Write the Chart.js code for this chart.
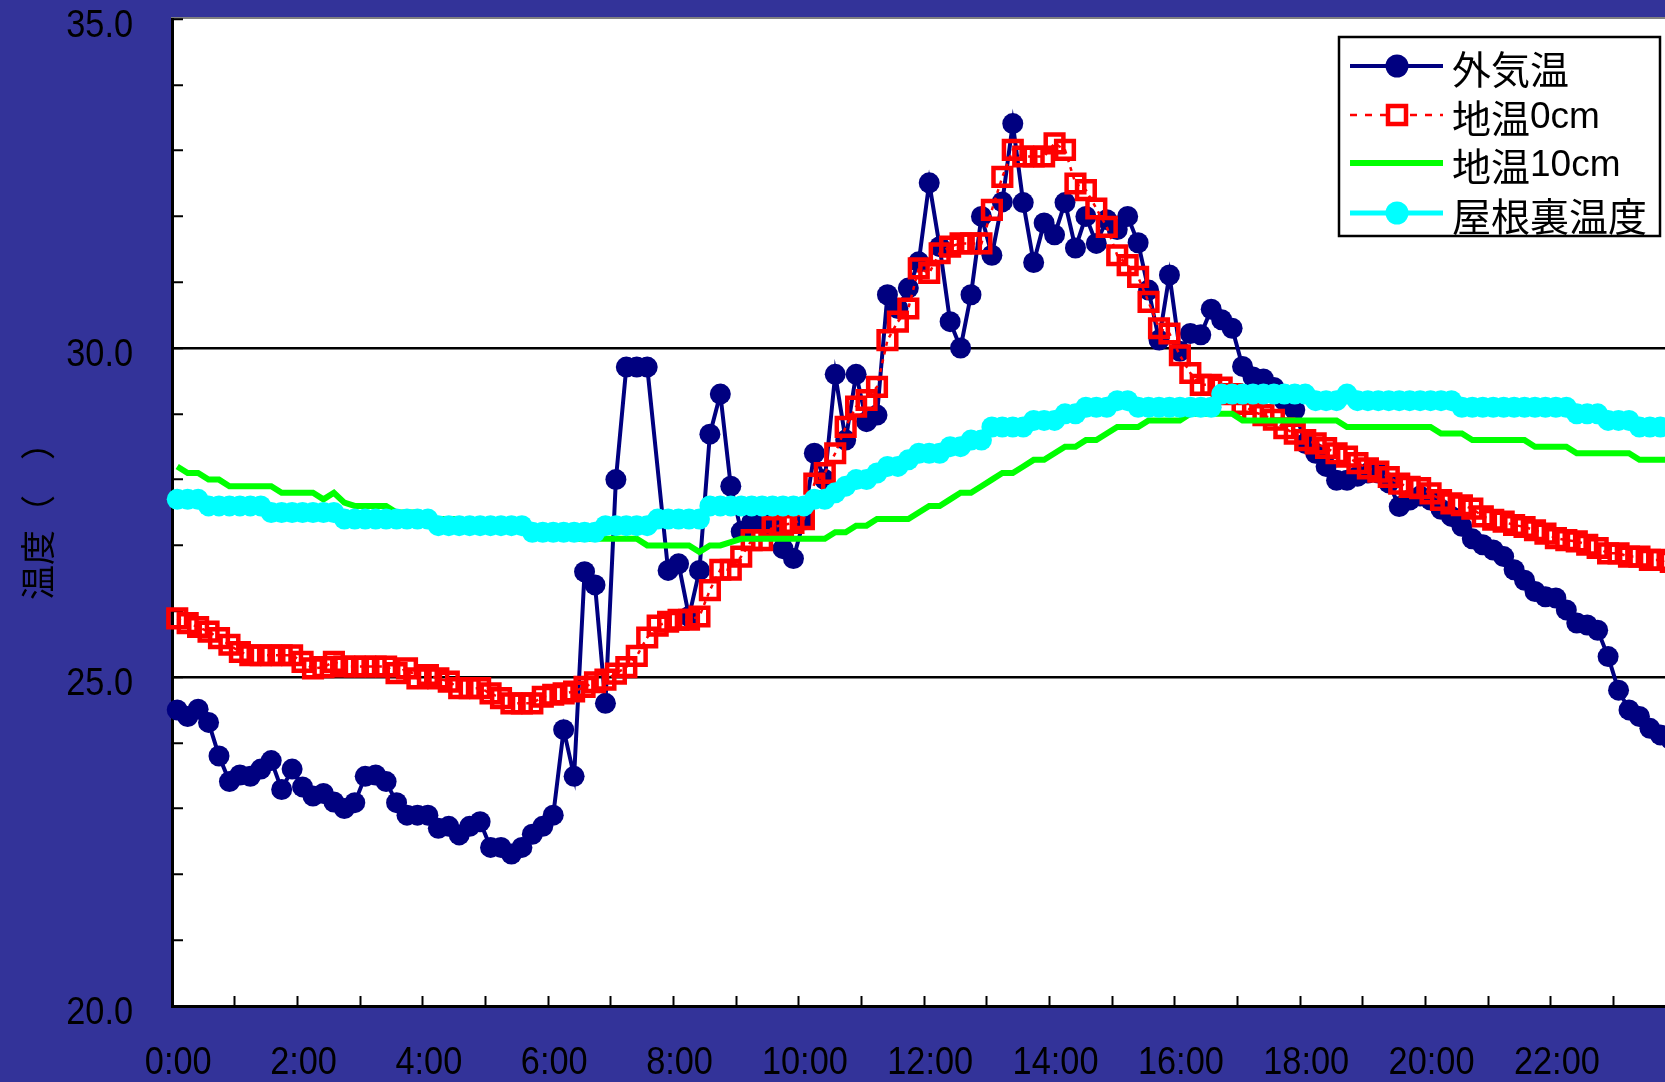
<!DOCTYPE html>
<html>
<head>
<meta charset="utf-8">
<script src="https://cdn.jsdelivr.net/npm/chart.js@4.4.1/dist/chart.umd.min.js"></script>
<style>
  html, body { margin: 0; padding: 0; background: #333399; overflow: hidden; }
  canvas { display: block; }
</style>
</head>
<body>
<canvas id="tempChart" width="1680" height="1082"></canvas>
<script>
// 10-minute readings over one day
const times = [];
for (let m = 0; m < 1440; m += 10) {
    times.push(Math.floor(m / 60) + ":" + String(m % 60).padStart(2, "0"));
}

const outsideTemp = [
    24.50, 24.40, 24.51, 24.31, 23.80, 23.41, 23.51, 23.49, 23.60, 23.73,
    23.29, 23.60, 23.33, 23.19, 23.23, 23.10, 23.00, 23.09, 23.49, 23.51,
    23.41, 23.09, 22.90, 22.90, 22.90, 22.70, 22.73, 22.60, 22.73, 22.80,
    22.41, 22.41, 22.31, 22.41, 22.61, 22.73, 22.90, 24.20, 23.49, 26.60,
    26.40, 24.60, 28.00, 29.71, 29.71, 29.71, null, 26.62, 26.72, 25.92,
    26.62, 28.69, 29.30, 27.90, 27.21, 27.35, 27.35, 27.30, 26.95, 26.80,
    27.39, 28.40, 28.00, 29.60, 28.60, 29.60, 28.88, 28.98, 30.81, 30.60,
    30.91, 31.31, 32.51, 31.54, 30.40, 30.00, 30.81, 32.00, 31.41, 32.22,
    33.41, 32.21, 31.30, 31.90, 31.72, 32.21, 31.52, 32.00, 31.59, 31.95,
    31.80, 32.00, 31.60, 30.88, 30.12, 31.11, 29.95, 30.22, 30.20, 30.59,
    30.43, 30.30, 29.72, 29.56, 29.53, 29.40, 29.20, 29.06, 28.55, 28.40,
    28.20, 27.99, 27.99, 28.05, 28.10, 28.10, 27.95, 27.59, 27.69, 27.75,
    27.69, 27.55, 27.44, 27.29, 27.10, 27.01, 26.93, 26.83, 26.63, 26.47,
    26.30, 26.22, 26.20, 26.02, 25.82, 25.79, 25.71, 25.31, 24.80, 24.50,
    24.40, 24.22, 24.12, 24.05
];

const soil0cm = [
    25.89, 25.82, 25.76, 25.69, 25.59, 25.49, 25.38, 25.33, 25.33, 25.33,
    25.33, 25.33, 25.23, 25.13, 25.15, 25.23, 25.16, 25.16, 25.16, 25.16,
    25.16, 25.06, 25.13, 24.98, 25.03, 24.98, 24.93, 24.83, 24.83, 24.83,
    24.75, 24.68, 24.60, 24.60, 24.60, 24.70, 24.73, 24.75, 24.78, 24.85,
    24.92, 24.96, 25.05, 25.15, 25.32, 25.60, 25.78, 25.84, 25.87, 25.87,
    25.92, 26.32, 26.63, 26.63, 26.83, 27.08, 27.08, 27.28, 27.31, 27.34,
    27.40, 27.94, 28.10, 28.40, 28.80, 29.11, 29.21, 29.41, 30.12, 30.40,
    30.60, 31.21, 31.14, 31.44, 31.54, 31.59, 31.59, 31.59, 32.10, 32.60,
    33.01, 32.91, 32.91, 32.91, 33.11, 33.01, 32.50, 32.40, 32.12, 31.84,
    31.41, 31.26, 31.08, 30.70, 30.30, 30.22, 29.89, 29.62, 29.44, 29.44,
    29.40, 29.30, 29.15, 29.03, 28.98, 28.91, 28.78, 28.70, 28.60, 28.55,
    28.48, 28.40, 28.35, 28.25, 28.17, 28.12, 28.04, 27.94, 27.89, 27.87,
    27.79, 27.69, 27.64, 27.61, 27.56, 27.44, 27.39, 27.36, 27.31, 27.28,
    27.23, 27.18, 27.11, 27.08, 27.06, 27.01, 26.96, 26.88, 26.88, 26.83,
    26.83, 26.78, 26.78, 26.75
];

const soil10cm = [
    28.2, 28.1, 28.1, 28.0, 28.0, 27.9, 27.9, 27.9, 27.9, 27.9,
    27.8, 27.8, 27.8, 27.8, 27.7, 27.8, 27.65, 27.6, 27.6, 27.6,
    27.6, 27.5, 27.5, 27.5, 27.4, 27.4, 27.4, 27.4, 27.3, 27.3,
    27.3, 27.3, 27.3, 27.2, 27.2, 27.2, 27.2, 27.2, 27.1, 27.1,
    27.1, 27.1, 27.1, 27.1, 27.1, 27.0, 27.0, 27.0, 27.0, 27.0,
    26.9, 27.0, 27.0, 27.05, 27.1, 27.1, 27.1, 27.1, 27.1, 27.1,
    27.1, 27.1, 27.1, 27.2, 27.2, 27.3, 27.3, 27.4, 27.4, 27.4,
    27.4, 27.5, 27.6, 27.6, 27.7, 27.8, 27.8, 27.9, 28.0, 28.1,
    28.1, 28.2, 28.3, 28.3, 28.4, 28.5, 28.5, 28.6, 28.6, 28.7,
    28.8, 28.8, 28.8, 28.9, 28.9, 28.9, 28.9, 29.0, 29.0, 29.0,
    29.0, 29.0, 28.9, 28.9, 28.9, 28.9, 28.9, 28.9, 28.9, 28.9,
    28.9, 28.9, 28.8, 28.8, 28.8, 28.8, 28.8, 28.8, 28.8, 28.8,
    28.8, 28.7, 28.7, 28.7, 28.6, 28.6, 28.6, 28.6, 28.6, 28.6,
    28.5, 28.5, 28.5, 28.5, 28.4, 28.4, 28.4, 28.4, 28.4, 28.4,
    28.3, 28.3, 28.3, 28.3
];

const atticTemp = [
    27.7, 27.7, 27.7, 27.6, 27.6, 27.6, 27.6, 27.6, 27.6, 27.5,
    27.5, 27.5, 27.5, 27.5, 27.5, 27.5, 27.4, 27.4, 27.4, 27.4,
    27.4, 27.4, 27.4, 27.4, 27.4, 27.3, 27.3, 27.3, 27.3, 27.3,
    27.3, 27.3, 27.3, 27.3, 27.2, 27.2, 27.2, 27.2, 27.2, 27.2,
    27.2, 27.3, 27.3, 27.3, 27.3, 27.3, 27.4, 27.4, 27.4, 27.4,
    27.4, 27.6, 27.6, 27.6, 27.6, 27.6, 27.6, 27.6, 27.6, 27.6,
    27.6, 27.7, 27.7, 27.8, 27.9, 28.0, 28.0, 28.1, 28.2, 28.2,
    28.3, 28.4, 28.4, 28.4, 28.5, 28.5, 28.6, 28.6, 28.8, 28.8,
    28.8, 28.8, 28.9, 28.9, 28.9, 29.0, 29.0, 29.1, 29.1, 29.1,
    29.2, 29.2, 29.1, 29.1, 29.1, 29.1, 29.1, 29.1, 29.1, 29.1,
    29.3, 29.3, 29.3, 29.3, 29.3, 29.3, 29.3, 29.3, 29.3, 29.2,
    29.2, 29.2, 29.3, 29.2, 29.2, 29.2, 29.2, 29.2, 29.2, 29.2,
    29.2, 29.2, 29.2, 29.1, 29.1, 29.1, 29.1, 29.1, 29.1, 29.1,
    29.1, 29.1, 29.1, 29.1, 29.0, 29.0, 29.0, 28.9, 28.9, 28.9,
    28.8, 28.8, 28.8, 28.8
];

const seriesNames = ["外気温", "地温0cm", "地温10cm", "屋根裏温度"];
const yTitle = "温度（　）";

const NAVY = "#000080";
const RED = "#ff0000";
const GREEN = "#00ff00";
const CYAN = "#00ffff";

// white plot area with a grey frame on the blue page
const plotBackground = {
    id: "plotBackground",
    beforeDraw(chart) {
        const { ctx, chartArea: a } = chart;
        ctx.save();
        ctx.fillStyle = "#333399";
        ctx.fillRect(0, 0, chart.width, chart.height);
        ctx.fillStyle = "#ffffff";
        ctx.fillRect(a.left, a.top, a.right - a.left, a.bottom - a.top);
        ctx.strokeStyle = "#808080";
        ctx.lineWidth = 2;
        ctx.strokeRect(a.left, a.top - 1, a.right - a.left, a.bottom - a.top + 1);
        ctx.restore();
    }
};

// tick labels in a narrowed face, placed from the scales' own ticks
const narrowTickLabels = {
    id: "narrowTickLabels",
    afterDraw(chart) {
        const { ctx } = chart;
        const xs = chart.scales.x, ys = chart.scales.y;
        const put = (text, px, py, align) => {
            ctx.save();
            ctx.translate(px, py);
            ctx.scale(0.88, 1);
            ctx.textAlign = align;
            ctx.fillText(text, 0, 0);
            ctx.restore();
        };
        ctx.save();
        ctx.fillStyle = "#000000";
        ctx.font = '39px "Liberation Sans", Arial, sans-serif';
        ctx.textBaseline = "middle";
        ys.ticks.forEach((t, i) => {
            if (t.label) put(t.label, ys.right - 39, ys.getPixelForTick(i) + 7, "right");
        });
        xs.ticks.forEach((t, i) => {
            if (t.label) put(t.label, xs.getPixelForTick(i) + 1, xs.top + 57, "center");
        });
        ctx.restore();
    }
};

// CJK in one face, latin digits/letters in another
function drawMixedText(ctx, text, x, y) {
    const runs = text.match(/[\x00-\x7f]+|[^\x00-\x7f]+/g);
    runs.forEach(r => {
        ctx.font = /[\x00-\x7f]/.test(r[0])
            ? '37px "Liberation Sans", Arial, sans-serif'
            : '39px "Noto Sans CJK JP", sans-serif';
        ctx.fillText(r, x, y);
        x += ctx.measureText(r).width;
    });
}

// boxed legend in the top right corner of the plot
const cornerLegend = {
    id: "cornerLegend",
    afterDraw(chart) {
        const ctx = chart.ctx;
        const box = { x: 1339, y: 37, w: 321, h: 199 };
        ctx.save();
        ctx.fillStyle = "#ffffff";
        ctx.fillRect(box.x, box.y, box.w, box.h);
        ctx.strokeStyle = "#000000";
        ctx.lineWidth = 2.5;
        ctx.strokeRect(box.x, box.y, box.w, box.h);

        const rows = [66, 115, 163, 213];
        const x1 = 1350, x2 = 1443, xm = 1397;
        chart.data.datasets.forEach((ds, i) => {
            const y = rows[i];
            ctx.save();
            ctx.strokeStyle = ds.borderColor;
            ctx.lineWidth = ds.borderWidth;
            ctx.setLineDash(ds.borderDash ? [7, 8] : []);
            ctx.beginPath();
            ctx.moveTo(x1, y);
            ctx.lineTo(x2, y);
            ctx.stroke();
            ctx.setLineDash([]);
            if (ds.pointRadius > 0) {
                if (ds.pointStyle === "rect") {
                    ctx.fillStyle = "#ffffff";
                    ctx.fillRect(xm - 9, y - 9, 18, 18);
                    ctx.strokeStyle = ds.pointBorderColor;
                    ctx.lineWidth = 4.5;
                    ctx.strokeRect(xm - 9, y - 9, 18, 18);
                } else {
                    ctx.fillStyle = ds.pointBackgroundColor;
                    ctx.beginPath();
                    ctx.arc(xm, y, 11.5, 0, Math.PI * 2);
                    ctx.fill();
                }
            }
            ctx.restore();
            ctx.fillStyle = "#000000";
            ctx.textBaseline = "middle";
            drawMixedText(ctx, ds.label, 1452, y + 3);
        });
        ctx.restore();
    }
};

new Chart(document.getElementById("tempChart"), {
    type: "line",
    data: {
        labels: times,
        datasets: [
            {
                label: seriesNames[0],
                data: outsideTemp,
                order: 4,
                borderColor: NAVY,
                borderWidth: 4,
                pointStyle: "circle",
                pointRadius: 10.5,
                pointBorderWidth: 0,
                pointBackgroundColor: NAVY,
                pointBorderColor: NAVY,
                spanGaps: true
            },
            {
                label: seriesNames[1],
                data: soil0cm,
                order: 3,
                borderColor: RED,
                borderWidth: 2.5,
                borderDash: [4, 5],
                pointStyle: "rect",
                pointRadius: 12.5,
                pointBorderWidth: 4.5,
                pointBackgroundColor: "rgba(0,0,0,0)",
                pointBorderColor: RED
            },
            {
                label: seriesNames[2],
                data: soil10cm,
                order: 2,
                borderColor: GREEN,
                borderWidth: 6,
                pointRadius: 0
            },
            {
                label: seriesNames[3],
                data: atticTemp,
                order: 1,
                borderColor: CYAN,
                borderWidth: 5,
                pointStyle: "circle",
                pointRadius: 10.5,
                pointBorderWidth: 0,
                pointBackgroundColor: CYAN,
                pointBorderColor: CYAN
            }
        ]
    },
    options: {
        responsive: false,
        animation: false,
        devicePixelRatio: 1,
        // the plot runs on past the right edge of the page (24:00 is cut off)
        layout: { autoPadding: false, padding: { top: 19, right: 4, left: 0, bottom: 0 } },
        elements: { line: { tension: 0 } },
        plugins: {
            legend: { display: false },
            tooltip: { enabled: false }
        },
        scales: {
            x: {
                type: "category",
                offset: true,
                border: { color: "#000000", width: 3 },
                grid: {
                    offset: true,
                    drawOnChartArea: false,
                    tickLength: -10,
                    tickWidth: 2,
                    tickColor: (c) => c.index % 6 === 0 ? "#000000" : "rgba(0,0,0,0)"
                },
                ticks: {
                    display: false,
                    autoSkip: false,
                    maxRotation: 0,
                    minRotation: 0,
                    callback: (v, i) => i % 12 === 0 ? times[i] : ""
                },
                afterFit(scale) {
                    scale.height = 76;
                    scale.paddingLeft = 0;
                    scale.paddingRight = 0;
                }
            },
            y: {
                min: 20,
                max: 35,
                border: { color: "#000000", width: 3 },
                grid: {
                    tickLength: -11,
                    tickWidth: 2,
                    tickColor: "#000000",
                    lineWidth: 2.5,
                    color: (c) => c.tick && (c.tick.value === 25 || c.tick.value === 30) ? "#000000" : "rgba(0,0,0,0)"
                },
                ticks: {
                    display: false,
                    stepSize: 1,
                    autoSkip: false,
                    maxTicksLimit: 100,
                    callback: (v) => v % 5 === 0 ? v.toFixed(1) : ""
                },
                title: {
                    display: true,
                    text: yTitle,
                    color: "#000000",
                    font: { family: '"Noto Sans CJK JP", sans-serif', size: 35 },
                    padding: { top: 17, bottom: 0 }
                },
                afterFit(scale) {
                    scale.width = 172;
                    scale.paddingTop = 0;
                    scale.paddingBottom = 0;
                }
            }
        }
    },
    plugins: [plotBackground, narrowTickLabels, cornerLegend]
});
</script>
</body>
</html>
